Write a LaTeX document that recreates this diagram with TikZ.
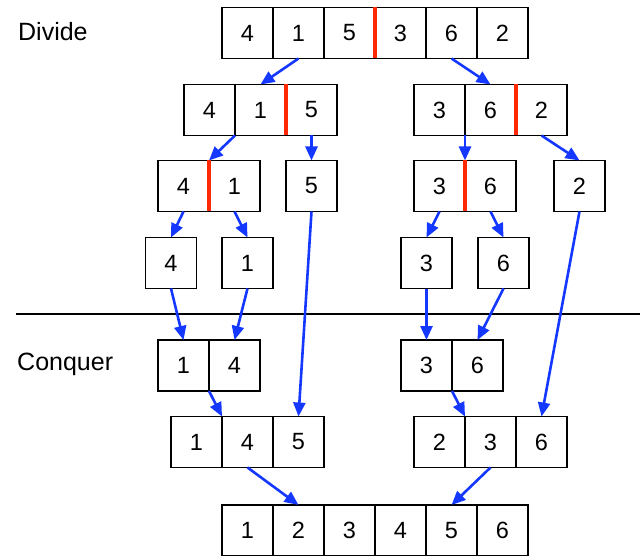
\documentclass[tikz,border=0pt]{standalone}
\usepackage{fontspec}
\setmainfont{Liberation Sans}
\usetikzlibrary{positioning, arrows.meta}

\definecolor{linkblue}{RGB}{20,56,255}
\definecolor{splitred}{RGB}{255,40,0}

\tikzset{
    cell/.style={draw, line width=1.2pt, rectangle, minimum width=51pt, minimum height=51pt,
        inner sep=0pt, outer sep=0pt, font=\fontsize{23.5}{28}\selectfont},
    split/.style={draw=splitred, line width=3.5pt},
    link/.style={draw=linkblue, line width=2.6pt, -{Triangle[length=14pt, width=12pt]}},
    caption/.style={anchor=base west, inner sep=0pt, font=\fontsize{25}{30}\selectfont}
}

\begin{document}
\begin{tikzpicture}[x=1pt, y=-1pt]
    \useasboundingbox (0,0) rectangle (640,556);

    \node[caption] (divide) at (18,41) {Divide};
    \node[caption] (conquer) at (17,370) {Conquer};

    % top row
    \node[cell] (a1) at (247.5,33) {4};
    \node[cell, right=0pt of a1] (a2) {1};
    \node[cell, right=0pt of a2] (a3) {5};
    \node[cell, right=0pt of a3] (a4) {3};
    \node[cell, right=0pt of a4] (a5) {6};
    \node[cell, right=0pt of a5] (a6) {2};

    % second row
    \node[cell] (bl1) at (209.5,110) {4};
    \node[cell, right=0pt of bl1] (bl2) {1};
    \node[cell, right=0pt of bl2] (bl3) {5};
    \node[cell] (br1) at (439.5,110) {3};
    \node[cell, right=0pt of br1] (br2) {6};
    \node[cell, right=0pt of br2] (br3) {2};

    % third row
    \node[cell] (c1) at (183.5,186) {4};
    \node[cell, right=0pt of c1] (c2) {1};
    \node[cell] (c3) at (311.5,186) {5};
    \node[cell] (c4) at (439.5,186) {3};
    \node[cell, right=0pt of c4] (c5) {6};
    \node[cell] (c6) at (579.5,186) {2};

    % single cells
    \node[cell] (d1) at (171,263) {4};
    \node[cell] (d2) at (247.5,263) {1};
    \node[cell] (d3) at (426.5,263) {3};
    \node[cell] (d4) at (503.5,263) {6};

    % red splits
    \draw[split] (a3.north east) -- (a3.south east);
    \draw[split] (bl2.north east) -- (bl2.south east);
    \draw[split] (br2.north east) -- (br2.south east);
    \draw[split] (c1.north east) -- (c1.south east);
    \draw[split] (c4.north east) -- (c4.south east);

    \draw[line width=2.6pt] (16,314) -- (640,314);

    % conquer rows
    \node[cell] (e1) at (183.5,365.5) {1};
    \node[cell, right=0pt of e1] (e2) {4};
    \node[cell] (e3) at (426.5,365.5) {3};
    \node[cell, right=0pt of e3] (e4) {6};

    \node[cell] (f1) at (196.5,442) {1};
    \node[cell, right=0pt of f1] (f2) {4};
    \node[cell, right=0pt of f2] (f3) {5};
    \node[cell] (f4) at (439.5,442) {2};
    \node[cell, right=0pt of f4] (f5) {3};
    \node[cell, right=0pt of f5] (f6) {6};

    \node[cell] (g1) at (247.5,530.5) {1};
    \node[cell, right=0pt of g1] (g2) {2};
    \node[cell, right=0pt of g2] (g3) {3};
    \node[cell, right=0pt of g3] (g4) {4};
    \node[cell, right=0pt of g4] (g5) {5};
    \node[cell, right=0pt of g5] (g6) {6};

    \draw
        (a2.south) edge[link] (bl2.north)
        (a5.south) edge[link] (br2.north)
        (bl1.south east) edge[link] (c1.north east)
        (bl3.south) edge[link] (c3.north)
        (br1.south east) edge[link] (c4.north east)
        (br3.south) edge[link] (c6.north)
        (c1.south) edge[link] (d1.north)
        (c2.south) edge[link] (d2.north)
        (c4.south) edge[link] (d3.north)
        (c5.south) edge[link] (d4.north)
        (d1.south) edge[link] (e1.north)
        (d2.south) edge[link] (e2.north)
        (c3.south) edge[link] (f3.north)
        (d3.south) edge[link] (e3.north)
        (d4.south) edge[link] (e4.north)
        (c6.south) edge[link] (f6.north)
        (e1.south east) edge[link] (f1.north east)
        (e3.south east) edge[link] (f4.north east)
        (f2.south) edge[link] (g2.north)
        (f5.south) edge[link] (g5.north)
        ;
\end{tikzpicture}
\end{document}
